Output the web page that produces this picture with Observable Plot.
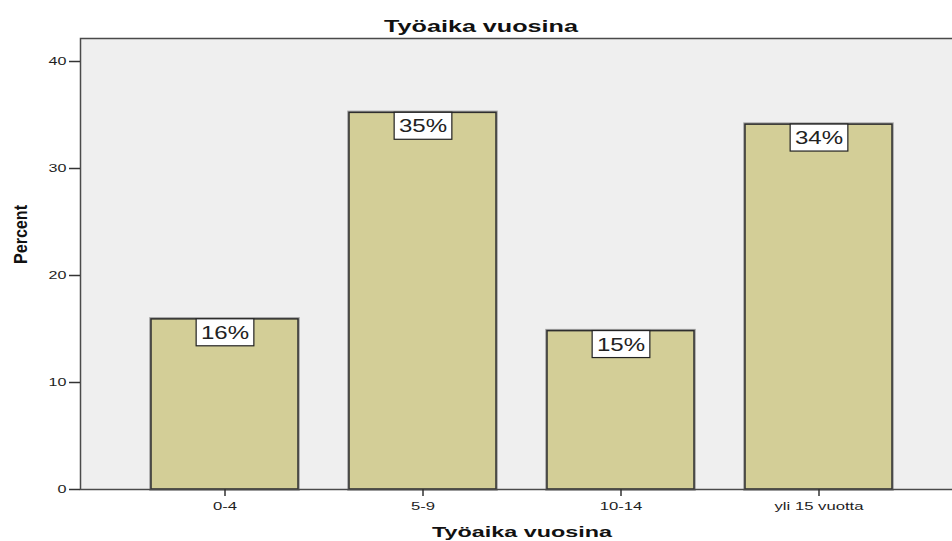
<!DOCTYPE html>
<html>
<head>
<meta charset="utf-8">
<script src="https://cdn.jsdelivr.net/npm/d3@7"></script>
<script src="https://cdn.jsdelivr.net/npm/@observablehq/plot@0.6"></script>
<style>
  html, body { margin: 0; padding: 0; background: #fff; overflow: hidden; }
</style>
</head>
<body>
<script>
const categories = ["0-4", "5-9", "10-14", "yli 15 vuotta"];
const percents = [15.9, 35.2, 14.8, 34.1];
const valueLabels = ["16%", "35%", "15%", "34%"];
const yTicks = [0, 10, 20, 30, 40];
const chartTitle = "Työaika vuosina";
const xTitle = "Työaika vuosina";
const yTitle = "Percent";

const data = categories.map((c, i) => ({category: c, percent: percents[i], label: valueLabels[i]}));

const chart = Plot.plot({
  width: 970,
  height: 541,
  marginLeft: 80,
  marginRight: 7,
  marginTop: 38,
  marginBottom: 52,
  style: {fontFamily: "'Liberation Sans', Arial, sans-serif", fontSize: "11.5px", color: "#1e1e1e", background: "#fff"},
  x: {domain: categories, paddingInner: 0.256, paddingOuter: 0.347, label: null},
  y: {domain: [0, 42.15], label: null},
  marks: [
    Plot.frame({fill: "#efefef"}),
    Plot.barY(data, {x: "category", y: "percent", fill: "#d3ce97", stroke: "#a0a0a0", strokeWidth: 3.5}),
    Plot.barY(data, {x: "category", y: "percent", fill: "#d3ce97", stroke: "#2e2e2e", strokeWidth: 1.5}),
    Plot.frame({stroke: "#4a4a4a", strokeWidth: 1.5}),
    Plot.axisY({ticks: yTicks, tickSize: 11, tickPadding: 3, label: null, stroke: "#333", strokeWidth: 1.5}),
    Plot.axisX({tickSize: 7, tickPadding: 5, label: null, stroke: "#333", strokeWidth: 1.5}),
    Plot.text(data, {x: "category", y: "percent", text: "label", dy: 13.5, lineAnchor: "middle", fontSize: 18.5, fill: "#222"}),
    Plot.text([chartTitle], {frameAnchor: "top", lineAnchor: "bottom", dx: -41, dy: -7, fontSize: 17, fontWeight: "bold", fill: "#111"}),
    Plot.text([xTitle], {frameAnchor: "bottom", lineAnchor: "bottom", dx: 0, dy: 47, fontSize: 15, fontWeight: "bold", fill: "#111"}),
    Plot.text([yTitle], {frameAnchor: "left", rotate: -90, dx: -60, fontSize: 15, fontWeight: "bold", fill: "#111"})
  ]
});

chart.style.maxWidth = "none";
document.body.append(chart);

function stretchEl(t, factor) {
  const L = t.getComputedTextLength();
  t.setAttribute("textLength", (L * factor).toFixed(1));
  t.setAttribute("lengthAdjust", "spacingAndGlyphs");
}
function setLen(t, len) {
  t.setAttribute("textLength", len);
  t.setAttribute("lengthAdjust", "spacingAndGlyphs");
}
chart.querySelectorAll('g[aria-label="y-axis tick label"] text').forEach(t => stretchEl(t, 1.4));
chart.querySelectorAll('g[aria-label="x-axis tick label"] text').forEach(t => stretchEl(t, 1.45));

const allTexts = Array.from(chart.querySelectorAll("text"));
const valueTexts = allTexts.filter(t => valueLabels.includes(t.textContent) && !t.closest('g[aria-label*="axis"]'));
const titleTexts = allTexts.filter(t => t.textContent === chartTitle)
  .sort((a, b) => a.getBoundingClientRect().top - b.getBoundingClientRect().top);
const yTitleTexts = allTexts.filter(t => t.textContent === yTitle);

if (titleTexts[0]) setLen(titleTexts[0], 194);
if (titleTexts[1]) setLen(titleTexts[1], 180);
yTitleTexts.forEach(t => {
  setLen(t, 59);
  const tr = t.getAttribute("transform") || "";
  t.setAttribute("transform", tr + " scale(1,1.25)");
});

// white label boxes behind percentage labels
valueTexts.forEach(t => {
  stretchEl(t, 1.3);
  const bb = t.getBBox();
  const cy = bb.y + bb.height / 2;
  const r = document.createElementNS("http://www.w3.org/2000/svg", "rect");
  r.setAttribute("x", bb.x - 4.8);
  r.setAttribute("y", cy - 13.5);
  r.setAttribute("width", bb.width + 9.6);
  r.setAttribute("height", 27);
  r.setAttribute("fill", "#fff");
  r.setAttribute("stroke", "#222");
  r.setAttribute("stroke-width", 1.2);
  const tr = t.getAttribute("transform");
  if (tr) r.setAttribute("transform", tr);
  t.parentNode.insertBefore(r, t);
});
</script>
</body>
</html>
